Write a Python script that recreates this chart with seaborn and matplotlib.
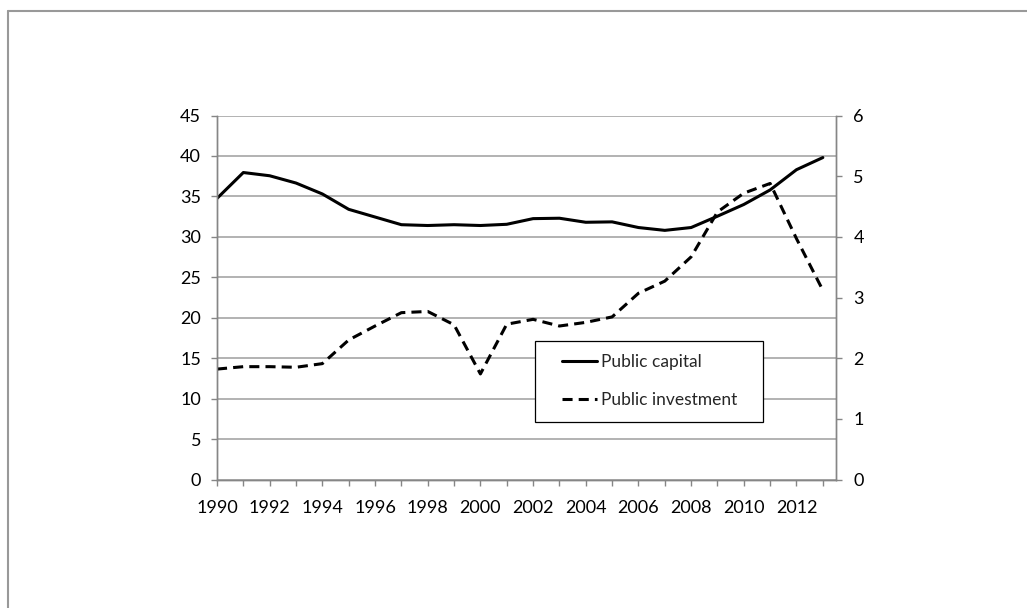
import matplotlib
matplotlib.use("Agg")
import matplotlib.pyplot as plt
import seaborn as sns
import pandas as pd
from matplotlib.lines import Line2D
from matplotlib.patches import Rectangle

# Data
years = list(range(1990, 2014))
public_capital = [34.75, 37.95, 37.55, 36.65, 35.3, 33.4, 32.45, 31.5, 31.4, 31.5,
                  31.4, 31.55, 32.25, 32.3, 31.8, 31.85, 31.15, 30.8, 31.15, 32.55,
                  34.0, 35.8, 38.3, 39.8]
public_investment = [1.82, 1.86, 1.86, 1.85, 1.91, 2.30, 2.53, 2.75, 2.77, 2.55,
                     1.74, 2.56, 2.64, 2.53, 2.59, 2.68, 3.07, 3.27, 3.67, 4.41,
                     4.72, 4.88, 3.97, 3.12]
left_ticks = [0, 5, 10, 15, 20, 25, 30, 35, 40, 45]
right_ticks = [0, 1, 2, 3, 4, 5, 6]
label_years = list(range(1990, 2013, 2))

df = pd.DataFrame({"year": years, "capital": public_capital, "investment": public_investment})

sns.set_style("white")
plt.rcParams["font.family"] = ["Lato", "DejaVu Sans"]
fs = 12.5

grid_col = "#a6a6a6"
axis_col = "#868686"

fig = plt.figure(figsize=(10.27, 6.08), dpi=100)
ax = fig.add_axes([217 / 1027, 1 - 479.5 / 608, (836 - 217) / 1027, (479.5 - 115.5) / 608])
ax2 = ax.twinx()

sns.lineplot(data=df, x="year", y="capital", ax=ax, color="black", linewidth=2.2,
             label="Public capital", legend=False)
sns.lineplot(data=df, x="year", y="investment", ax=ax2, color="black", linewidth=2.2,
             label="Public investment", legend=False)
ax2.lines[0].set_dashes((3.3, 2.0))

# axes limits and ticks
ax.set_xlim(1990, 2013.5)
ax.set_ylim(0, 45)
ax2.set_ylim(0, 6)
ax.set_yticks(left_ticks)
ax2.set_yticks(right_ticks)
ax.set_xticks(years)
ax.set_xticklabels([str(y) if y in label_years else "" for y in years])
ax.set_xlabel("")
ax.set_ylabel("")
ax2.set_ylabel("")

ax.yaxis.grid(True, color=grid_col, linewidth=1.2)
ax.set_axisbelow(True)

for a in (ax, ax2):
    a.spines["top"].set_visible(False)
    for side in ("left", "right", "bottom"):
        a.spines[side].set_color(axis_col)
        a.spines[side].set_linewidth(1.0)

ax.tick_params(axis="both", which="both", direction="out", length=4.5, width=1.0,
               color=axis_col, labelcolor="black", labelsize=13)
ax.tick_params(axis="y", pad=7)
ax.tick_params(axis="x", pad=10)
ax.tick_params(left=True, bottom=True)
ax2.tick_params(axis="y", direction="out", length=4.5, width=1.0, color=axis_col,
                labelcolor="black", labelsize=13, pad=8, right=True)

# legend box drawn separately so its size matches the original
ax2.add_patch(Rectangle((0.513, 0.158), 0.369, 0.2234, transform=ax2.transAxes,
                        facecolor="white", edgecolor="black", linewidth=0.9, zorder=4))
handles = [ax.lines[0], ax2.lines[0]]
leg = ax2.legend(handles, ["Public capital", "Public investment"],
                 loc="center", bbox_to_anchor=(0.699, 0.2705), fontsize=fs,
                 frameon=False, borderpad=0.75, labelspacing=1.25, handlelength=2.0,
                 handletextpad=0.2)
leg.set_zorder(5)

# outer chart frame
fig.add_artist(Line2D([8 / 1027, 1.0], [1 - 11 / 608, 1 - 11 / 608],
                      transform=fig.transFigure, color="#999999", linewidth=1.5))
fig.add_artist(Line2D([8 / 1027, 8 / 1027], [0.0, 1 - 11 / 608],
                      transform=fig.transFigure, color="#999999", linewidth=1.5))

fig.savefig("out.png", dpi=100)
